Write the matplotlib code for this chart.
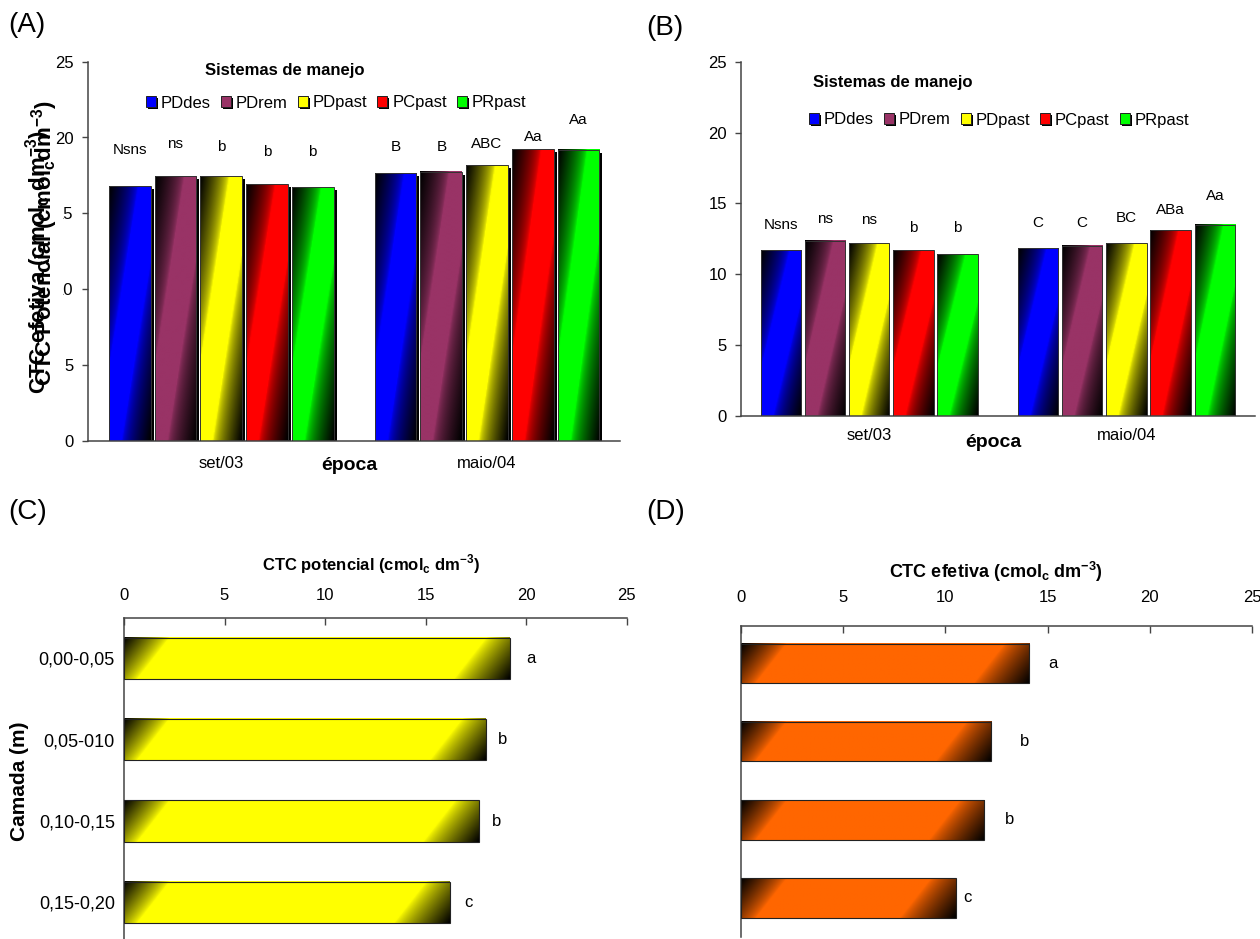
import numpy as np
import matplotlib
matplotlib.use('Agg')
import matplotlib.pyplot as plt
from matplotlib.patches import Rectangle, Patch
from matplotlib import patheffects as pe
from matplotlib.colors import to_rgb
from matplotlib.transforms import offset_copy

plt.rcParams['font.family'] = ['Liberation Sans', 'DejaVu Sans']
plt.rcParams['mathtext.fontset'] = 'custom'
plt.rcParams['mathtext.rm'] = 'Liberation Sans'
plt.rcParams['mathtext.bf'] = 'Liberation Sans:bold'

# dados
sistemas = ['PDdes', 'PDrem', 'PDpast', 'PCpast', 'PRpast']
cores = ['#0000ff', '#993366', '#ffff00', '#ff0000', '#00ff00']
epocas = ['set/03', 'maio/04']

ctc_pot = [[16.8, 17.45, 17.45, 16.9, 16.75],      # set/03
           [17.65, 17.75, 18.2, 19.25, 19.2]]      # maio/04
letras_pot = [['Nsns', 'ns', 'b', 'b', 'b'],
              ['B', 'B', 'ABC', 'Aa', 'Aa']]
alt_letras_pot = [[19.15, 19.55, 19.4, 19.05, 19.05],
                  [19.4, 19.4, 19.6, 20.05, 21.15]]

ctc_ef = [[11.7, 12.35, 12.2, 11.7, 11.4],
          [11.85, 12.0, 12.2, 13.1, 13.5]]
letras_ef = [['Nsns', 'ns', 'ns', 'b', 'b'],
             ['C', 'C', 'BC', 'ABa', 'Aa']]
alt_letras_ef = [[13.45, 13.9, 13.8, 13.3, 13.3],
                 [13.65, 13.65, 13.95, 14.55, 15.5]]

a_ytick_vals = [0, 5, 10, 15, 20, 25]

camadas = ['0,00-0,05', '0,05-010', '0,10-0,15', '0,15-0,20']
ctc_pot_camada = [19.2, 18.0, 17.65, 16.2]
ctc_ef_camada = [14.1, 12.25, 11.9, 10.5]
letras_camada = ['a', 'b', 'b', 'c']
pos_letras_pot = [20.25, 18.85, 18.55, 17.15]
pos_letras_ef = [15.25, 13.85, 13.15, 11.1]

W, H = 1260, 939
fig = plt.figure(figsize=(W / 100, H / 100), dpi=100)


def fx(x):
    return x / W


def fy(y):
    return 1 - y / H


def grad_v(cor, nx=40, ny=240):
    rgb = np.array(to_rgb(cor))
    u = np.linspace(0, 1, nx)[None, :]
    v = np.linspace(0, 1, ny)[:, None]
    d1 = np.clip(1 - (u + v) / 0.7, 0, 1) ** 0.6
    d2 = np.clip(1 - ((1 - u) + (1 - v)) / 0.7, 0, 1) ** 0.6
    d = np.maximum(d1, d2)
    return rgb[None, None, :] * (1 - d[..., None])


def grad_h(cor, nx, ny):
    # nx, ny em pixels
    rgb = np.array(to_rgb(cor))
    x = np.arange(nx)[None, :]
    y = np.arange(ny)[:, None]
    d1 = np.clip(1 - (x + 0.8 * y) / 45.0, 0, 1) ** 0.8
    d2 = np.clip(1 - ((nx - 1 - x) + 0.8 * (ny - 1 - y)) / 55.0, 0, 1) ** 0.8
    d = np.maximum(d1, d2)
    return rgb[None, None, :] * (1 - d[..., None])


def barra_v(ax, x, w, h, cor, sombra):
    if sombra:
        tr = offset_copy(ax.transData, fig=fig, x=3, y=-3, units='dots')
        ax.add_patch(Rectangle((x - w / 2, 0), w, h, transform=tr,
                               facecolor='black', edgecolor='none', zorder=1))
    ax.imshow(grad_v(cor), extent=(x - w / 2, x + w / 2, 0, h),
              aspect='auto', interpolation='bilinear', origin='upper', zorder=2)
    ax.add_patch(Rectangle((x - w / 2, 0), w, h, facecolor='none',
                           edgecolor='#333333', lw=0.7, zorder=3))


def barra_h(ax, y, hgt, v, cor, px_x, px_y):
    nx = max(int(v * px_x), 2)
    ny = max(int(hgt * px_y), 2)
    ax.imshow(grad_h(cor, nx, ny), extent=(0, v, y + hgt / 2, y - hgt / 2),
              aspect='auto', interpolation='bilinear', origin='upper', zorder=2)
    ax.add_patch(Rectangle((0, y - hgt / 2), v, hgt, facecolor='none',
                           edgecolor='#222222', lw=0.8, zorder=3))


def painel_epoca(ax, valores, letras, alturas, sombra, tick_pad, xpad):
    passo, larg = 0.172, 0.157
    for g in range(len(epocas)):
        for i in range(len(sistemas)):
            x = g + (i - 2) * passo
            barra_v(ax, x, larg, valores[g][i], cores[i], sombra)
            ax.text(x, alturas[g][i], letras[g][i], ha='center', va='center',
                    fontsize=11)
    ax.set_xlim(-0.5, 1.5)
    ax.set_ylim(0, 25)
    ax.set_yticks(a_ytick_vals)
    ax.set_xticks(range(len(epocas)))
    ax.set_xticklabels(epocas)
    ax.tick_params(axis='x', length=0, pad=xpad, labelsize=12)
    ax.tick_params(axis='y', length=4, width=1, color='#444444',
                   pad=tick_pad, labelsize=12)
    for s in ['top', 'right']:
        ax.spines[s].set_visible(False)
    for s in ['left', 'bottom']:
        ax.spines[s].set_color('#444444')
        ax.spines[s].set_linewidth(1.1)


def legenda(ax, cx, cy):
    handles = [Patch(facecolor=c, edgecolor='#222222', lw=0.7,
                     path_effects=[pe.SimplePatchShadow(offset=(1.5, -1.5),
                                                        shadow_rgbFace='k',
                                                        alpha=1),
                                   pe.Normal()])
               for c in cores]
    ax.legend(handles, sistemas, ncol=5, loc='center',
              bbox_to_anchor=(fx(cx), fy(cy)), bbox_transform=fig.transFigure,
              frameon=False, fontsize=12, handlelength=0.6, handleheight=0.6,
              handletextpad=0.3, columnspacing=0.6, borderpad=0)


# (A)
axA = fig.add_axes([fx(88.3), fy(440.7), (620 - 88.3) / W, (440.7 - 61.7) / H])
painel_epoca(axA, ctc_pot, letras_pot, alt_letras_pot, True, 6.5, 11)
legenda(axA, 336, 103)
fig.text(fx(285), fy(70), 'Sistemas de manejo', fontsize=12,
         fontweight='bold', ha='center', va='center')
fig.text(fx(349), fy(465), 'época', fontsize=14, fontweight='bold',
         ha='center', va='center')
# rótulos sobrepostos do eixo y, como no original
fig.patches.append(Rectangle((fx(24), fy(400)), 39 / W, 250 / H,
                             transform=fig.transFigure, facecolor='white',
                             edgecolor='none', zorder=1))
fig.text(fx(39), fy(262),
         r'CTC efetiva (cmol$_{\mathbf{c}}$ dm$^{\mathbf{-3}}$)',
         rotation=90, fontsize=16, fontweight='bold', ha='center',
         va='center', zorder=3)
fig.text(fx(45), fy(243),
         r'CTC Potencial (cmol$_{\mathbf{c}}$dm$^{\mathbf{-3}}$)',
         rotation=90, fontsize=16, fontweight='bold', ha='center',
         va='center', zorder=4)

# (B)
axB = fig.add_axes([fx(740.6), fy(416), (1255 - 740.6) / W, (416 - 61.7) / H])
painel_epoca(axB, ctc_ef, letras_ef, alt_letras_ef, False, 5.8, 9)
legenda(axB, 999, 120)
fig.text(fx(893), fy(83), 'Sistemas de manejo', fontsize=12,
         fontweight='bold', ha='center', va='center')
fig.text(fx(993), fy(442), 'época', fontsize=14, fontweight='bold',
         ha='center', va='center')


def painel_camada(ax, valores, letras, pos, cor, ylim, hgt, pad_top):
    ax.set_xlim(0, 25)
    ax.set_ylim(*ylim)
    bb = ax.get_position()
    px_x = bb.width * W / 25
    px_y = bb.height * H / abs(ylim[0] - ylim[1])
    for i, v in enumerate(valores):
        barra_h(ax, i, hgt, v, cor, px_x, px_y)
        ax.text(pos[i], i, letras[i], ha='center', va='center', fontsize=12)
    ax.set_xlim(0, 25)
    ax.set_ylim(*ylim)
    ax.xaxis.tick_top()
    ax.set_xticks([0, 5, 10, 15, 20, 25])
    ax.tick_params(axis='x', direction='in', length=5, width=1,
                   color='#444444', pad=pad_top, labelsize=12)
    for s in ['bottom', 'right']:
        ax.spines[s].set_visible(False)
    for s in ['left', 'top']:
        ax.spines[s].set_color('#444444')
        ax.spines[s].set_linewidth(1.1)


# (C)
axC = fig.add_axes([fx(124), 0, (626.5 - 124) / W, (939 - 617.7) / H])
painel_camada(axC, ctc_pot_camada, letras_camada, pos_letras_pot,
              '#ffff00', (3.45, -0.5), 0.51, 10.4)
axC.set_yticks(range(len(camadas)))
axC.set_yticklabels(camadas)
axC.tick_params(axis='y', length=0, pad=6.5, labelsize=13)
fig.text(fx(371), fy(564),
         r'CTC potencial (cmol$_{\mathbf{c}}$ dm$^{\mathbf{-3}}$)',
         fontsize=12, fontweight='bold', ha='center', va='center')
fig.text(fx(20), fy(781), 'Camada (m)', rotation=90, fontsize=15,
         fontweight='bold', ha='center', va='center')

# (D)
axD = fig.add_axes([fx(741), fy(937), (1252 - 741) / W, (937 - 626) / H])
painel_camada(axD, ctc_ef_camada, letras_camada, pos_letras_ef,
              '#ff6600', (3.5, -0.48), 0.506, 15)
axD.set_yticks([])
fig.text(fx(996), fy(572),
         r'CTC efetiva (cmol$_{\mathbf{c}}$ dm$^{\mathbf{-3}}$)',
         fontsize=13, fontweight='bold', ha='center', va='center')

for s, (x, y) in zip(['(A)', '(B)', '(C)', '(D)'],
                     [(8, 25), (646, 28), (8, 512), (646, 512)]):
    fig.text(fx(x), fy(y), s, fontsize=20, ha='left', va='center')

fig.savefig('out.png', dpi=100)
